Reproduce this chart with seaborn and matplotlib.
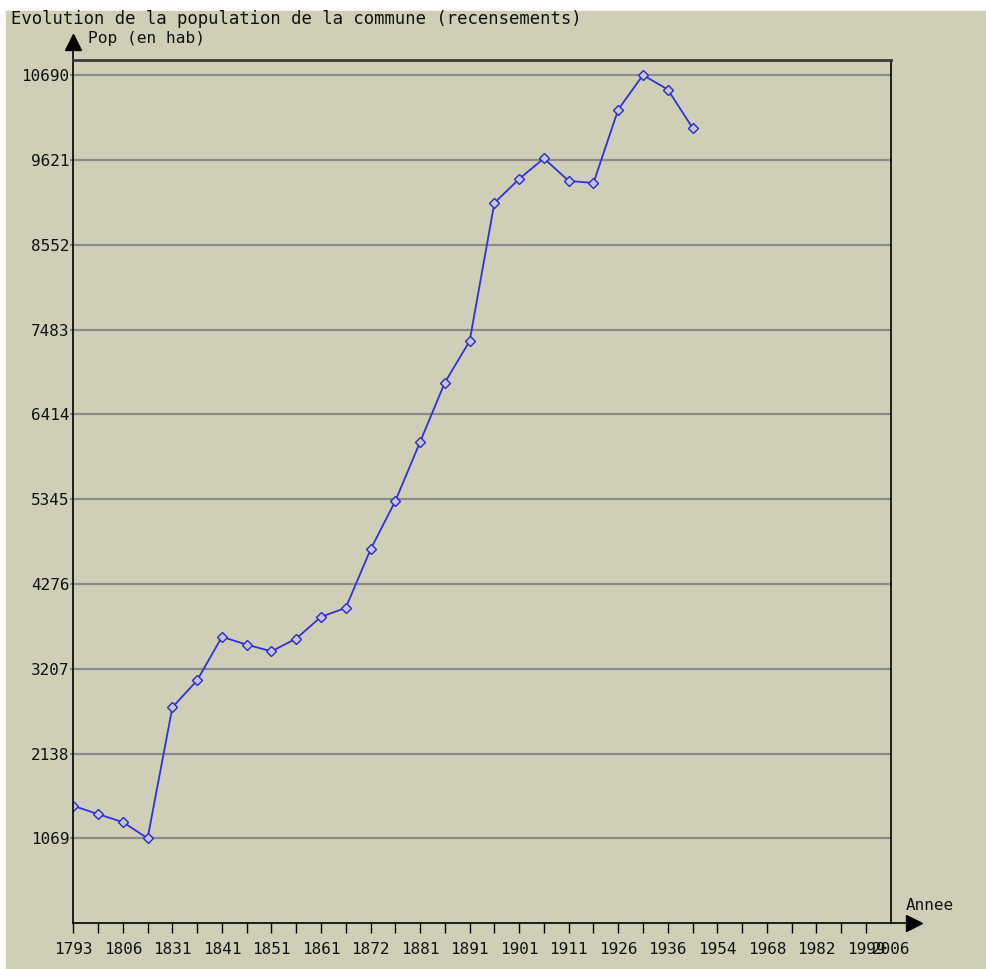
import pandas as pd
import matplotlib.pyplot as plt
import seaborn as sns

# Recensements (annees) et population
annees = [1793, 1800, 1806, 1821, 1831, 1836, 1841, 1846, 1851, 1856, 1861,
          1866, 1872, 1876, 1881, 1886, 1891, 1896, 1901, 1906, 1911, 1921,
          1926, 1931, 1936, 1946, 1954, 1962, 1968, 1975, 1982, 1990, 1999, 2006]
population = [1480, 1376, 1275, 1072, 2721, 3062, 3610, 3512, 3428, 3588, 3862,
              3976, 4711, 5321, 6066, 6815, 7337, 9078, 9381, 9640, 9356, 9330,
              10256, 10690, 10508, 10025]
y_ticks = [1069, 2138, 3207, 4276, 5345, 6414, 7483, 8552, 9621, 10690]

df = pd.DataFrame({'idx': range(len(population)), 'pop': population})

fond = '#cfcfb7'
sns.set_theme(style="white")
plt.rcParams['font.family'] = ['DejaVu Sans Mono', 'DejaVu Sans']
plt.rcParams['font.size'] = 11.5

fig = plt.figure(figsize=(9.87, 9.69), dpi=100)
fig.patch.set_facecolor('white')
# fond beige avec petite marge blanche
fig.patches.append(plt.Rectangle((6 / 987, 1 / 969), 1, 1 - 12 / 969,
                                 transform=fig.transFigure, color=fond, zorder=-10))

ax = fig.add_axes([73.3 / 987, (969 - 923.3) / 969, 817.4 / 987, 863.3 / 969])
ax.set_facecolor(fond)

sns.lineplot(data=df, x='idx', y='pop', ax=ax, color='#3030e0', linewidth=1.3,
             marker='D', markersize=5, markerfacecolor='#c4c4dc',
             markeredgecolor='#2a2ac8', markeredgewidth=1)

ax.set_xlim(0, len(annees) - 1)
ax.set_ylim(0, 10880)

# grille horizontale
ax.set_yticks(y_ticks)
ax.set_yticklabels([str(v) for v in y_ticks])
ax.grid(axis='y', color='#8a8a8a', linewidth=1.6)
ax.grid(axis='x', visible=False)
ax.set_axisbelow(True)

labels = []
for i, a in enumerate(annees):
    if i % 2 == 0 or i == len(annees) - 1:
        labels.append(str(a))
    else:
        labels.append('')
ax.set_xticks(range(len(annees)))
ax.set_xticklabels(labels)
ax.tick_params(axis='x', bottom=True, length=7.2, width=1, color='black', pad=6,
               labelsize=11.5, labelcolor='#111111')
ax.tick_params(axis='y', left=True, length=2.2, width=1.6, color='#8a8a8a', pad=0.5,
               labelsize=11.5, labelcolor='#111111')
ax.xaxis.get_major_ticks()[-1].tick1line.set_visible(False)

ax.set_xlabel('')
ax.set_ylabel('')

for s in ['left', 'bottom', 'right']:
    ax.spines[s].set_color('black')
    ax.spines[s].set_linewidth(1.2)
ax.spines['top'].set_color('#3a3a3a')
ax.spines['top'].set_linewidth(2)

# fleches des axes
ax.plot([0, 0], [1, 1.025], transform=ax.transAxes, color='black', lw=1.2, clip_on=False)
ax.plot([0], [1.0205], transform=ax.transAxes, marker='^', markersize=12,
        color='black', clip_on=False)
ax.plot([1, 1.025], [0, 0], transform=ax.transAxes, color='black', lw=1.2, clip_on=False)
ax.plot([1.0285], [0], transform=ax.transAxes, marker='>', markersize=12,
        color='black', clip_on=False)

fig.text(11 / 987, 1 - 19 / 969, 'Evolution de la population de la commune (recensements)',
         ha='left', va='center', fontsize=12.4, color='#111111')
fig.text(88 / 987, 1 - 38 / 969, 'Pop (en hab)', ha='left', va='center',
         fontsize=11.7, color='#111111')
fig.text(906 / 987, 1 - 905 / 969, 'Annee', ha='left', va='center',
         fontsize=11.5, color='#111111')

plt.savefig('out.png', dpi=100, facecolor='white')
plt.close()
